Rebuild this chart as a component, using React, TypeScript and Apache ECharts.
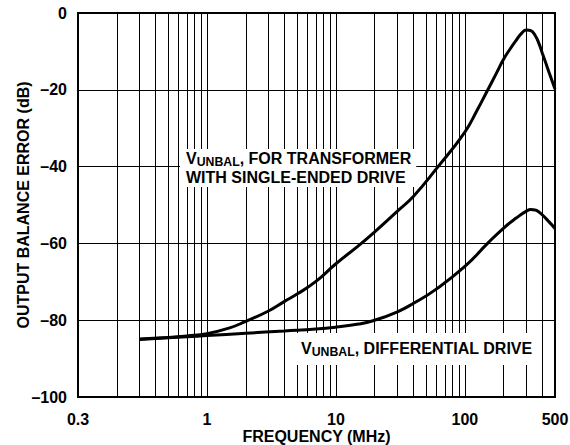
import React, { useEffect, useRef } from "react";
import * as echarts from "echarts";

// Frequency (MHz) sample points for each curve
const freqSingleEnded = [0.3, 0.5, 0.7, 1, 1.5, 2, 3, 4, 5, 7, 10, 15, 20, 30, 40, 60, 100, 125, 150, 175, 200, 225, 250, 275, 300, 325, 350, 375, 400, 425, 450, 475, 500];
const dbSingleEnded = [-84.9, -84.5, -84.1, -83.5, -82.0, -80.3, -77.6, -75.1, -73.2, -69.9, -65.3, -60.6, -57.0, -51.6, -47.7, -40.6, -31.0, -25.2, -20.1, -15.8, -12.0, -9.3, -7.1, -5.3, -4.4, -4.6, -5.8, -7.9, -10.6, -13.1, -15.5, -17.7, -19.8];

const freqDifferential = [0.3, 0.5, 0.7, 1, 2, 4, 7, 10, 15, 20, 30, 40, 60, 100, 150, 200, 250, 300, 325, 350, 375, 400, 450, 500];
const dbDifferential = [-85.0, -84.6, -84.3, -84.0, -83.4, -82.8, -82.3, -81.8, -81.0, -80.0, -77.8, -75.6, -71.9, -66.0, -60.0, -56.0, -53.4, -51.6, -51.2, -51.3, -51.8, -52.6, -54.4, -56.1];

// Axis ticks / labels
const xGridValues = [0.1, 0.2, 0.3, 0.4, 0.5, 0.6, 0.7, 0.8, 0.9, 1, 2, 3, 4, 5, 6, 7, 8, 9, 10, 20, 30, 40, 50, 60, 70, 80, 90, 100, 200, 300, 400, 500];
const xLabelValues = [0.1, 1, 10, 100, 500];
const xLabelTexts = ["0.3", "1", "10", "100", "500"];
const yMin = -100;
const yMax = 0;
const yStep = 20;

const FONT = "'Liberation Sans', Arial, Helvetica, sans-serif";

export default function App() {
  const ref = useRef<HTMLDivElement>(null);

  useEffect(() => {
    document.body.style.margin = "0";
    if (!ref.current) return;
    const chart = echarts.init(ref.current, null, { renderer: "svg" });

    const labelStyle = { color: "#000", fontFamily: FONT, fontWeight: "bold" as const, fontSize: 16 };
    const richMain = { fontFamily: FONT, fontWeight: "bold", fontSize: 16, lineHeight: 19, color: "#000" };
    const richSub = { fontFamily: FONT, fontWeight: "bold", fontSize: 12.3, lineHeight: 9, verticalAlign: "bottom", color: "#000" };

    chart.setOption({
      animation: false,
      backgroundColor: "#fff",
      grid: {
        left: 78,
        right: 15,
        top: 13,
        bottom: 48,
        outerBoundsMode: "none",
        containLabel: false,
        show: true,
        borderColor: "#000",
        borderWidth: 2,
        backgroundColor: "transparent",
      },
      xAxis: {
        type: "log",
        logBase: 10,
        min: 0.1,
        max: 500,
        name: "FREQUENCY (MHz)",
        nameLocation: "middle",
        nameGap: 31,
        nameMoveOverlap: false,
        nameTextStyle: labelStyle,
        axisLine: { show: true, lineStyle: { color: "#000", width: 2 } },
        axisTick: { show: false, customValues: xGridValues },
        axisLabel: {
          ...labelStyle,
          margin: 14,
          customValues: xLabelValues,
          formatter: (v: number) => {
            const i = xLabelValues.findIndex((x) => Math.abs(x - v) / x < 1e-6);
            return i >= 0 ? xLabelTexts[i] : "";
          },
        },
        splitLine: { show: true, lineStyle: { color: "#000", width: 1 } },
      },
      yAxis: {
        type: "value",
        min: yMin,
        max: yMax,
        interval: yStep,
        name: "OUTPUT BALANCE ERROR (dB)",
        nameLocation: "middle",
        nameGap: 47,
        nameMoveOverlap: false,
        nameTextStyle: labelStyle,
        axisLine: { show: true, lineStyle: { color: "#000", width: 2 } },
        axisTick: { show: false },
        axisLabel: {
          ...labelStyle,
          margin: 11,
          formatter: (v: number) => (v < 0 ? "\u2013" + Math.abs(v) : String(v)),
        },
        splitLine: { show: true, lineStyle: { color: "#000", width: 1 } },
      },
      graphic: [
        {
          type: "text",
          left: 180,
          top: 149,
          z: 5,
          style: {
            text: "{a|V}{b|UNBAL}{a|, FOR TRANSFORMER}\n{a|WITH SINGLE-ENDED DRIVE}",
            backgroundColor: "#fff",
            padding: [0, 5, 0, 6],
            rich: { a: richMain, b: richSub },
          },
        },
        {
          type: "text",
          left: 296,
          top: 333,
          z: 5,
          style: {
            text: "{a|V}{b|UNBAL}{a|, DIFFERENTIAL DRIVE}",
            backgroundColor: "#fff",
            padding: [6, 4, 7, 5],
            rich: { a: richMain, b: richSub },
          },
        },
      ],
      series: [
        {
          type: "line",
          name: "single-ended",
          z: 10,
          data: freqSingleEnded.map((f, i) => [f, dbSingleEnded[i]]),
          showSymbol: false,
          symbol: "none",
          smooth: 0.5,
          lineStyle: { color: "#000", width: 3 },
        },
        {
          type: "line",
          name: "differential",
          z: 10,
          data: freqDifferential.map((f, i) => [f, dbDifferential[i]]),
          showSymbol: false,
          symbol: "none",
          smooth: 0.5,
          lineStyle: { color: "#000", width: 3 },
        },
      ],
    });

    return () => chart.dispose();
  }, []);

  return <div ref={ref} style={{ width: 570, height: 445 }} />;
}
